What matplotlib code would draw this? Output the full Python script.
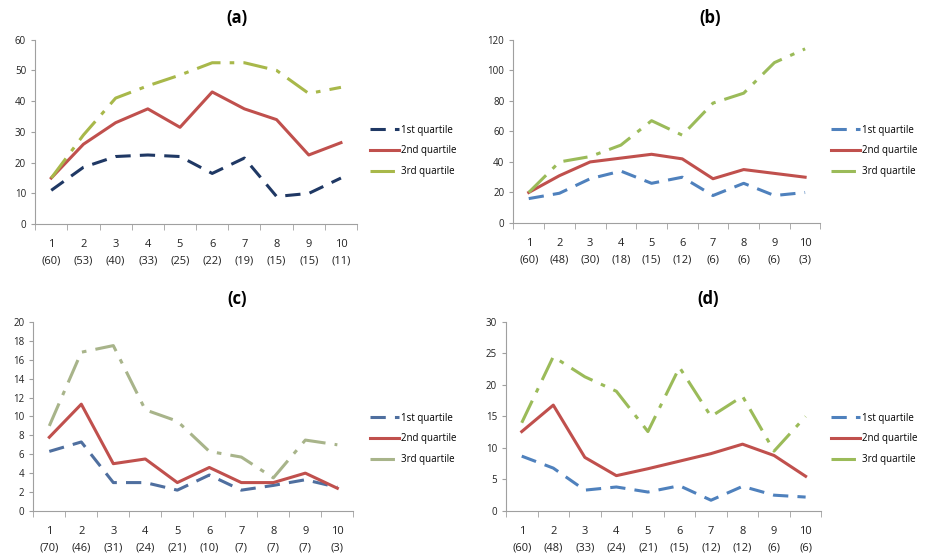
import numpy as np
import matplotlib.pyplot as plt

plt.rcParams['font.family'] = ['Open Sans', 'DejaVu Sans']

groups = np.arange(1, 11)

n_a = [60, 53, 40, 33, 25, 22, 19, 15, 15, 11]
q1_a = [11, 18.5, 22, 22.5, 22, 16.5, 21.5, 9, 10, 15]
q2_a = [15, 26, 33, 37.5, 31.5, 43, 37.5, 34, 22.5, 26.5]
q3_a = [15, 29, 41, 45, 48.5, 52.5, 52.5, 50, 42.5, 44.5]

n_b = [60, 48, 30, 18, 15, 12, 6, 6, 6, 3]
q1_b = [16, 19.5, 29, 34, 26, 30, 18, 26, 18, 20]
q2_b = [20, 31, 40, 42.5, 45, 42, 29, 35, 32.5, 30]
q3_b = [20, 40, 43.5, 51, 67, 57.5, 78.5, 85, 105, 114]

n_c = [70, 46, 31, 24, 21, 10, 7, 7, 7, 3]
q1_c = [6.3, 7.3, 3, 3, 2.2, 3.8, 2.2, 2.7, 3.3, 2.5]
q2_c = [7.8, 11.3, 5, 5.5, 3, 4.6, 3, 3, 4, 2.4]
q3_c = [9, 16.8, 17.5, 10.7, 9.5, 6.3, 5.7, 3.5, 7.5, 7]

n_d = [60, 48, 33, 24, 21, 15, 12, 12, 6, 6]
q1_d = [8.7, 6.8, 3.3, 3.8, 3, 4, 1.7, 3.9, 2.5, 2.2]
q2_d = [12.6, 16.8, 8.5, 5.6, 6.7, 7.9, 9.1, 10.6, 8.8, 5.5]
q3_d = [14, 24.5, 21.3, 19, 12.6, 22.8, 15, 18.2, 9.5, 15]

fig = plt.figure(figsize=(9.25, 5.59), dpi=100)

# (axes rect, title pos, ylim, ystep, data, q1 colour, q3 colour, legend pos)
panels = [
    ('(a)', [0.038, 0.599, 0.348, 0.330], (0.256, 0.968), 60, 10, n_a, q1_a, q2_a, q3_a, '#1f3864', '#a8b84a', (0.40, 0.730)),
    ('(b)', [0.555, 0.601, 0.332, 0.328], (0.768, 0.968), 120, 20, n_b, q1_b, q2_b, q3_b, '#4f81bd', '#9bbb59', (0.898, 0.730)),
    ('(c)', [0.036, 0.086, 0.346, 0.338], (0.256, 0.466), 20, 2, n_c, q1_c, q2_c, q3_c, '#4f6f9f', '#a8b48a', (0.40, 0.215)),
    ('(d)', [0.547, 0.086, 0.341, 0.338], (0.766, 0.466), 30, 5, n_d, q1_d, q2_d, q3_d, '#4f81bd', '#9bbb59', (0.898, 0.215)),
]

for title, rect, tpos, ymax, ystep, n, q1, q2, q3, c1, c3, lpos in panels:
    ax = fig.add_axes(rect)
    ax.plot(groups, q1, color=c1, lw=2.2, dashes=(5, 3), label='1st quartile')
    ax.plot(groups, q2, color='#c0504d', lw=2.2, label='2nd quartile')
    ax.plot(groups, q3, color=c3, lw=2.2, dashes=(8, 3, 1.5, 3), label='3rd quartile')
    ax.set_xlim(0.5, 10.5)
    ax.set_ylim(0, ymax)
    ax.set_yticks(np.arange(0, ymax + ystep / 2, ystep))
    ax.set_xticks(groups)
    ax.set_xticklabels([f'{g}\n({k})' for g, k in zip(groups, n)], linespacing=1.6)
    ax.set_xticks(np.arange(0.5, 11, 1), minor=True)
    ax.tick_params(axis='x', which='major', length=0, pad=11, labelsize=8, colors='#222222')
    ax.tick_params(axis='x', which='minor', length=4, color='#a0a0a0')
    ax.tick_params(axis='y', length=3, color='#a0a0a0', labelsize=7, colors='#222222')
    for s in ['top', 'right']:
        ax.spines[s].set_visible(False)
    for s in ['left', 'bottom']:
        ax.spines[s].set_color('#a0a0a0')
    fig.text(tpos[0], tpos[1], title, ha='center', va='center', fontsize=12, fontweight='bold')
    fig.legend(*ax.get_legend_handles_labels(), loc='center left', bbox_to_anchor=lpos,
               frameon=False, fontsize=7, handlelength=3.0, handletextpad=0.2, labelspacing=1.0,
               borderaxespad=0, borderpad=0)

fig.savefig('out.png', dpi=100, facecolor='white')
